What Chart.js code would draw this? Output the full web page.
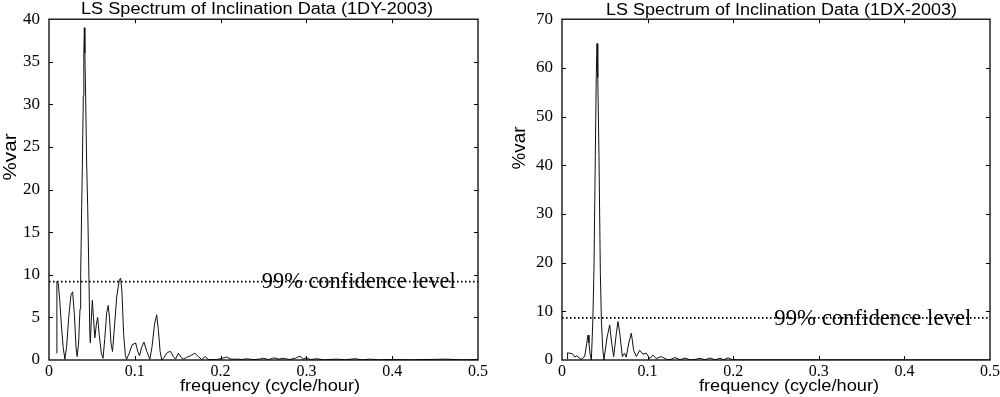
<!DOCTYPE html>
<html><head><meta charset="utf-8">
<script src="https://cdn.jsdelivr.net/npm/chart.js@4.4.0/dist/chart.umd.min.js"></script>
<style>
html,body{margin:0;padding:0;background:#fff;}
#wrap{position:relative;width:1000px;height:397px;overflow:hidden;background:#fff;}
.box{position:absolute;top:0;width:500px;height:397px;overflow:hidden;}
.box canvas{position:absolute;left:0;top:0;}
</style></head><body>
<div id="wrap">
<div class="box" style="left:0"><canvas id="c1" width="540" height="397"></canvas></div>
<div class="box" style="left:500px"><canvas id="c2" width="540" height="397"></canvas></div>
</div>
<script>
// ---------- data ----------
const xTickValues = [0, 0.1, 0.2, 0.3, 0.4, 0.5];
const xTickLabels = ['0', '0.1', '0.2', '0.3', '0.4', '0.5'];
const leftYTicks = [0, 5, 10, 15, 20, 25, 30, 35, 40];
const rightYTicks = [0, 10, 20, 30, 40, 50, 60, 70];

const leftTitle = 'LS Spectrum of Inclination Data (1DY-2003)';
const rightTitle = 'LS Spectrum of Inclination Data (1DX-2003)';
const xTitle = 'frequency (cycle/hour)';
const yTitle = '%var';
const confLabel = '99% confidence level';
const leftConf = 9.2;
const rightConf = 8.65;

const leftFreq = [0.0089,0.0092,0.0108,0.0125,0.0145,0.0165,0.0185,0.0205,0.0230,0.0255,0.0275,0.0295,0.0315,0.0328,0.0345,0.0355,0.0362,0.0369,0.0381,0.0389,0.0400,0.0406,0.0412,0.0418,0.0427,0.0439,0.0451,0.0466,0.0476,0.0482,0.0492,0.0505,0.0518,0.0534,0.0552,0.0567,0.0585,0.0610,0.0630,0.0650,0.0672,0.0690,0.0705,0.0722,0.0740,0.0760,0.0790,0.0820,0.0835,0.0850,0.0870,0.0890,0.0905,0.0935,0.0970,0.1010,0.1035,0.1055,0.1080,0.1107,0.1140,0.1175,0.1200,0.1230,0.1255,0.1275,0.1295,0.1315,0.1340,0.1380,0.1418,0.1450,0.1475,0.1507,0.1540,0.1570,0.1600,0.1650,0.1700,0.1740,0.1780,0.1820,0.1860,0.1950,0.2020,0.2070,0.2120,0.2200,0.2250,0.2300,0.2380,0.2450,0.2500,0.2560,0.2620,0.2680,0.2730,0.2800,0.2870,0.2925,0.2960,0.3000,0.3050,0.3120,0.3200,0.3350,0.3450,0.3566,0.3650,0.3740,0.3850,0.4000,0.4200,0.4630,0.4800,0.5000];
const leftVar  = [0.8,9.2,9.0,7.0,4.0,1.5,0.1,1.5,5.0,7.6,8.0,5.5,1.5,0.4,2.0,4.5,6.0,10,18,23,31,36,39,36,31,23,18,9.4,3.0,2.0,4.5,7.0,5.0,2.6,4.2,5.0,3.0,0.8,0.2,2.5,5.5,6.4,5.0,2.0,1.0,3.5,7.5,9.4,9.6,8.0,3.0,0.5,0.1,0.8,1.8,2.0,1.0,0.5,1.5,2.1,1.0,0.1,1.5,4.2,5.3,3.5,1.0,0.0,0.3,0.9,1.0,0.4,0.1,0.8,0.3,0.1,0.3,0.5,0.8,0.4,0.05,0.4,0.05,0.05,0.2,0.35,0.1,0.1,0.05,0.15,0.05,0.1,0.2,0.05,0.25,0.1,0.2,0.05,0.2,0.45,0.1,0.25,0.05,0.15,0.02,0.1,0.02,0.15,0.02,0.1,0.02,0.05,0.02,0.1,0.02,0.05];

const rightFreq = [0.0062,0.0065,0.0085,0.0120,0.0150,0.0175,0.0200,0.0226,0.0265,0.0290,0.0304,0.0315,0.0327,0.0343,0.0360,0.0374,0.0389,0.0400,0.0409,0.0418,0.0432,0.0448,0.0460,0.0475,0.0490,0.0525,0.0557,0.0580,0.0604,0.0635,0.0654,0.0675,0.0705,0.0730,0.0750,0.0780,0.0810,0.0837,0.0868,0.0907,0.0946,0.0985,0.1024,0.1063,0.1100,0.1160,0.1220,0.1260,0.1320,0.1380,0.1437,0.1500,0.1550,0.1610,0.1670,0.1730,0.1790,0.1846,0.1890,0.1940,0.1990,0.2100,0.5000];
const rightVar  = [0.2,1.5,1.4,1.3,0.6,0.9,0.4,0.15,0.7,3.5,5.1,3.5,1.4,0.0,8.0,19,42,58,65,58,42,17.8,8.2,2.5,0.0,4.5,7.2,3.5,0.7,5.5,7.9,5.5,0.7,1.4,0.6,3.5,5.5,2.0,0.7,2.0,1.2,1.4,0.3,1.0,0.3,0.7,0.15,0.05,0.5,0.05,0.4,0.05,0.1,0.35,0.05,0.4,0.05,0.35,0.05,0.45,0.05,0.02,0.02];

// ---------- helpers ----------
const SERIF = "'Liberation Serif','Times New Roman',serif";
const SANS = "'Liberation Sans',Arial,sans-serif";

function stretchText(ctx, text, cx, baseY, width, font, rotate, align) {
  ctx.save();
  ctx.font = font;
  ctx.fillStyle = '#000';
  ctx.textBaseline = 'alphabetic';
  ctx.textAlign = align || 'center';
  const w = ctx.measureText(text).width;
  const s = width / w;
  ctx.translate(cx, baseY);
  if (rotate) ctx.rotate(-Math.PI / 2);
  ctx.scale(s, 1);
  ctx.fillText(text, 0, 0);
  ctx.restore();
}

const decor = {
  id: 'decor',
  afterDraw(chart, args, o) {
    const {ctx, chartArea: a, scales: {x, y}} = chart;
    ctx.save();
    ctx.strokeStyle = '#000';
    ctx.lineWidth = 1.3;
    ctx.strokeRect(a.left, a.top, a.right - a.left, a.bottom - a.top);
    ctx.lineWidth = 1;
    ctx.beginPath();
    xTickValues.forEach(v => {
      if (v <= 0 || v >= 0.5) return;
      const px = Math.round(x.getPixelForValue(v)) + 0.5;
      ctx.moveTo(px, a.bottom); ctx.lineTo(px, a.bottom - 4);
      ctx.moveTo(px, a.top); ctx.lineTo(px, a.top + 4);
    });
    o.yTicks.forEach(v => {
      if (v <= 0 || v >= o.yTicks[o.yTicks.length - 1]) return;
      const py = Math.round(y.getPixelForValue(v)) + 0.5;
      ctx.moveTo(a.left, py); ctx.lineTo(a.left + 4, py);
      ctx.moveTo(a.right, py); ctx.lineTo(a.right - 4, py);
    });
    ctx.stroke();
    ctx.restore();
    // confidence label
    stretchText(ctx, confLabel, x.getPixelForValue(0.248), y.getPixelForValue(o.conf) + 6.8,
      o.confW, '22.5px ' + SERIF, false, 'left');
    // titles
    stretchText(ctx, o.title, o.titleX, o.titleY, o.titleW, '16px ' + SANS, false);
    stretchText(ctx, xTitle, o.xtX, 391, 180, '16px ' + SANS, false);
    stretchText(ctx, yTitle, o.ytX, o.ytY, o.ytW, '18px ' + SANS, true);
  }
};

function pts(xs, ys) { return xs.map((v, i) => ({x: v, y: ys[i]})); }

function makeChart(id, freq, vals, conf, yMax, yTicks, yWidth, padRight, deco) {
  deco.conf = conf;
  deco.yTicks = yTicks;
  return new Chart(document.getElementById(id), {
    type: 'scatter',
    data: {
      datasets: [
        { data: [{x: 0, y: conf}, {x: 0.5, y: conf}], showLine: true, borderColor: '#000',
          borderWidth: 1.6, borderDash: [1.6, 2.4], pointRadius: 0, borderCapStyle: 'butt' },
        { data: pts(freq, vals), showLine: true, borderColor: '#111', borderWidth: 1,
          pointRadius: 0, tension: 0 }
      ]
    },
    options: {
      responsive: false,
      animation: false,
      events: [],
      layout: { padding: { top: 19, right: padRight, bottom: 0, left: 0 } },
      plugins: { legend: { display: false }, tooltip: { enabled: false }, title: { display: false }, decor: deco },
      scales: {
        x: {
          type: 'linear', min: 0, max: 0.5,
          grid: { display: false, drawTicks: false }, border: { display: false },
          afterBuildTicks: s => { s.ticks = xTickValues.map(v => ({value: v})); },
          ticks: { padding: 2, color: '#000', font: { family: SERIF, size: 16 },
                   maxRotation: 0, autoSkip: false,
                   callback: (v, i) => xTickLabels[i] },
          afterFit: s => { s.height = 37; }
        },
        y: {
          type: 'linear', min: 0, max: yMax,
          grid: { display: false, drawTicks: false }, border: { display: false },
          afterBuildTicks: s => { s.ticks = yTicks.map(v => ({value: v})); },
          ticks: { padding: 9, color: '#000', font: { family: SERIF, size: 17 },
                   autoSkip: false, callback: (v, i) => String(yTicks[i]) },
          afterFit: s => { s.width = yWidth; }
        }
      }
    },
    plugins: [decor]
  });
}

makeChart('c1', leftFreq, leftVar, leftConf, 40, leftYTicks, 49, 62,
  { title: leftTitle, titleX: 257, titleY: 14, titleW: 352, xtX: 270, ytX: 15.5, ytY: 157, ytW: 47, confW: 194 });
makeChart('c2', rightFreq, rightVar, rightConf, 70, rightYTicks, 62, 50,
  { title: rightTitle, titleX: 281.5, titleY: 15, titleW: 351, xtX: 289, ytX: 25, ytY: 148, ytW: 43, confW: 197 });
</script>
</body></html>
